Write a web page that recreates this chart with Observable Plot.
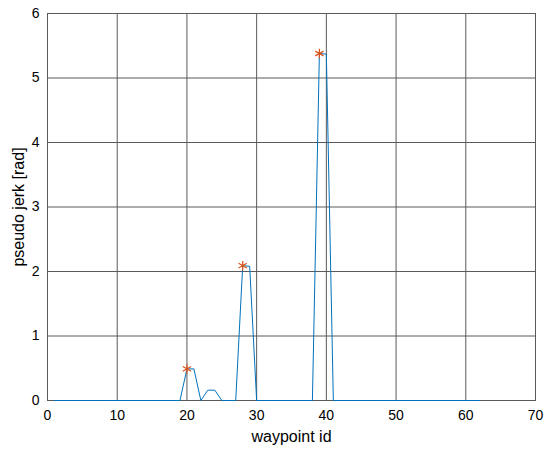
<!DOCTYPE html>
<html>
<head>
<meta charset="utf-8">
<script src="https://cdn.jsdelivr.net/npm/d3@7"></script>
<script src="https://cdn.jsdelivr.net/npm/@observablehq/plot@0.6"></script>
<style>
  html, body { margin: 0; padding: 0; background: #fff; }
  #chart { width: 550px; height: 454px; }
</style>
</head>
<body>
<div id="chart"></div>
<script>
// Data
const waypointIds = [1,2,3,4,5,6,7,8,9,10,11,12,13,14,15,16,17,18,19,20,21,22,23,24,25,26,27,28,29,30,31,32,33,34,35,36,37,38,39,40,41,42,43,44,45,46,47,48,49,50,51,52,53,54,55,56,57,58,59,60,61,62];
const jerkValues  = [0,0,0,0,0,0,0,0,0,0,0,0,0,0,0,0,0,0,0,0.49,0.49,0,0.16,0.16,0,0,0,2.09,2.08,0,0,0,0,0,0,0,0,0,5.38,5.37,0,0,0,0,0,0,0,0,0,0,0,0,0,0,0,0,0,0,0,0,0,0];
const peakIds    = [20, 28, 39];
const peakValues = [0.49, 2.09, 5.38];
const xTicks = [0,10,20,30,40,50,60,70];
const yTicks = [0,1,2,3,4,5,6];

const series = waypointIds.map((id, i) => ({id, v: jerkValues[i]}));
const peaks = peakIds.map((id, i) => ({id, v: peakValues[i]}));

const gridColor = "#5a5a5a";

const chart = Plot.plot({
  width: 550,
  height: 454,
  marginLeft: 47,
  marginRight: 15,
  marginTop: 13,
  marginBottom: 54,
  style: { fontFamily: "Liberation Sans, Arial, Helvetica, sans-serif", fontSize: "14px", background: "#fff", color: "#000" },
  x: { domain: [0, 70], ticks: xTicks, label: null },
  y: { domain: [0, 6], ticks: yTicks, label: null },
  marks: [
    Plot.gridX(xTicks, { stroke: gridColor, strokeOpacity: 1, strokeWidth: 1 }),
    Plot.gridY(yTicks, { stroke: gridColor, strokeOpacity: 1, strokeWidth: 1 }),
    Plot.frame({ stroke: gridColor, strokeWidth: 1 }),
    Plot.axisX(xTicks, { tickSize: 0, tickPadding: 10, fontSize: 14, fill: "#000", tickFormat: d3.format("d") }),
    Plot.axisY(yTicks, { tickSize: 0, tickPadding: 8, fontSize: 14, fill: "#000", tickFormat: d3.format("d") }),
    Plot.text(["waypoint id"], { frameAnchor: "bottom", dy: 41, fontSize: 16, fill: "#000" }),
    Plot.text(["pseudo jerk [rad]"], { frameAnchor: "left", textAnchor: "middle", dx: -29, rotate: -90, fontSize: 16, fill: "#000" }),
    Plot.line(series, { x: "id", y: "v", stroke: "#0072BD", strokeWidth: 1 }),
    Plot.dot(peaks, { x: "id", y: "v", symbol: "asterisk", r: 4.5, stroke: "#D95319", strokeWidth: 1.2 })
  ]
});
document.getElementById("chart").appendChild(chart);
</script>
</body>
</html>
